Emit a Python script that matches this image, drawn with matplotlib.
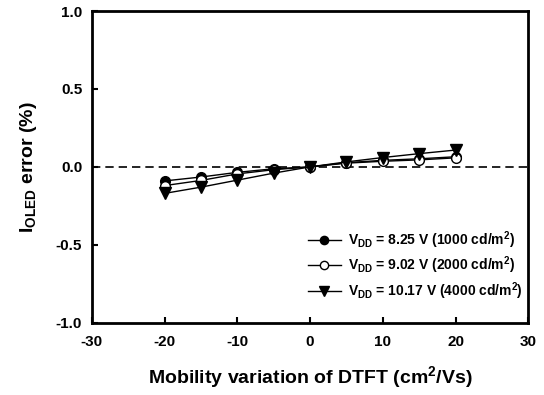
import numpy as np
import matplotlib
matplotlib.use('Agg')
import matplotlib.pyplot as plt

plt.rcParams['font.family'] = ['Liberation Sans', 'DejaVu Sans']
plt.rcParams['font.weight'] = 'bold'
plt.rcParams['axes.unicode_minus'] = False

mobility = [-20, -15, -10, -5, 0, 5, 10, 15, 20]
err_1000 = [-0.09, -0.065, -0.035, -0.012, 0.0, 0.027, 0.042, 0.052, 0.065]
err_2000 = [-0.12, -0.087, -0.045, -0.018, 0.0, 0.024, 0.036, 0.045, 0.058]
err_4000 = [-0.17, -0.13, -0.085, -0.04, 0.0, 0.032, 0.06, 0.085, 0.108]

labels = ['$\\mathregular{V_{DD}}$ = 8.25 V (1000 cd/m$\\mathregular{^2}$)',
          '$\\mathregular{V_{DD}}$ = 9.02 V (2000 cd/m$\\mathregular{^2}$)',
          '$\\mathregular{V_{DD}}$ = 10.17 V (4000 cd/m$\\mathregular{^2}$)']


def main():
	fig = plt.figure(figsize=(5.44, 3.95), dpi=100)
	ax = fig.add_axes([0.169, 0.183, 0.802, 0.789])

	ax.axhline(0, color='black', ls=(0, (5, 3)), lw=1.2, zorder=1)

	ax.plot(mobility, err_1000, '-o', color='black', mfc='black', ms=7, lw=1, label=labels[0])
	ax.plot(mobility, err_2000, '-o', color='black', mfc='white', ms=7, lw=1, label=labels[1])
	ax.plot(mobility, err_4000, '-v', color='black', mfc='black', ms=8, lw=1, label=labels[2])

	ax.set_xlim(-30, 30)
	ax.set_ylim(-1.0, 1.0)
	ax.set_xticks([-30, -20, -10, 0, 10, 20, 30])
	ax.set_yticks([-1.0, -0.5, 0.0, 0.5, 1.0])
	ax.set_yticklabels(['-1.0', '-0.5', '0.0', '0.5', '1.0'])
	ax.tick_params(direction='in', length=4, width=1.5, labelsize=11)
	ax.tick_params(axis='x', pad=9)
	ax.tick_params(axis='y', pad=7)
	for s in ax.spines.values():
		s.set_linewidth(2)

	ax.set_xlabel('Mobility variation of DTFT (cm$\\mathregular{^2}$/Vs)', fontsize=14, fontweight='bold', labelpad=11)
	ax.set_ylabel('I$\\mathregular{_{OLED}}$ error (%)', fontsize=14, fontweight='bold', labelpad=12)

	ax.legend(loc='lower right', frameon=False, fontsize=10, handlelength=2.4, markerscale=0.85,
			  borderaxespad=0.0, labelspacing=0.28, handletextpad=0.5, bbox_to_anchor=(1.0, 0.05))

	fig.savefig('out.png', dpi=100)

if __name__ == '__main__':
	main()
